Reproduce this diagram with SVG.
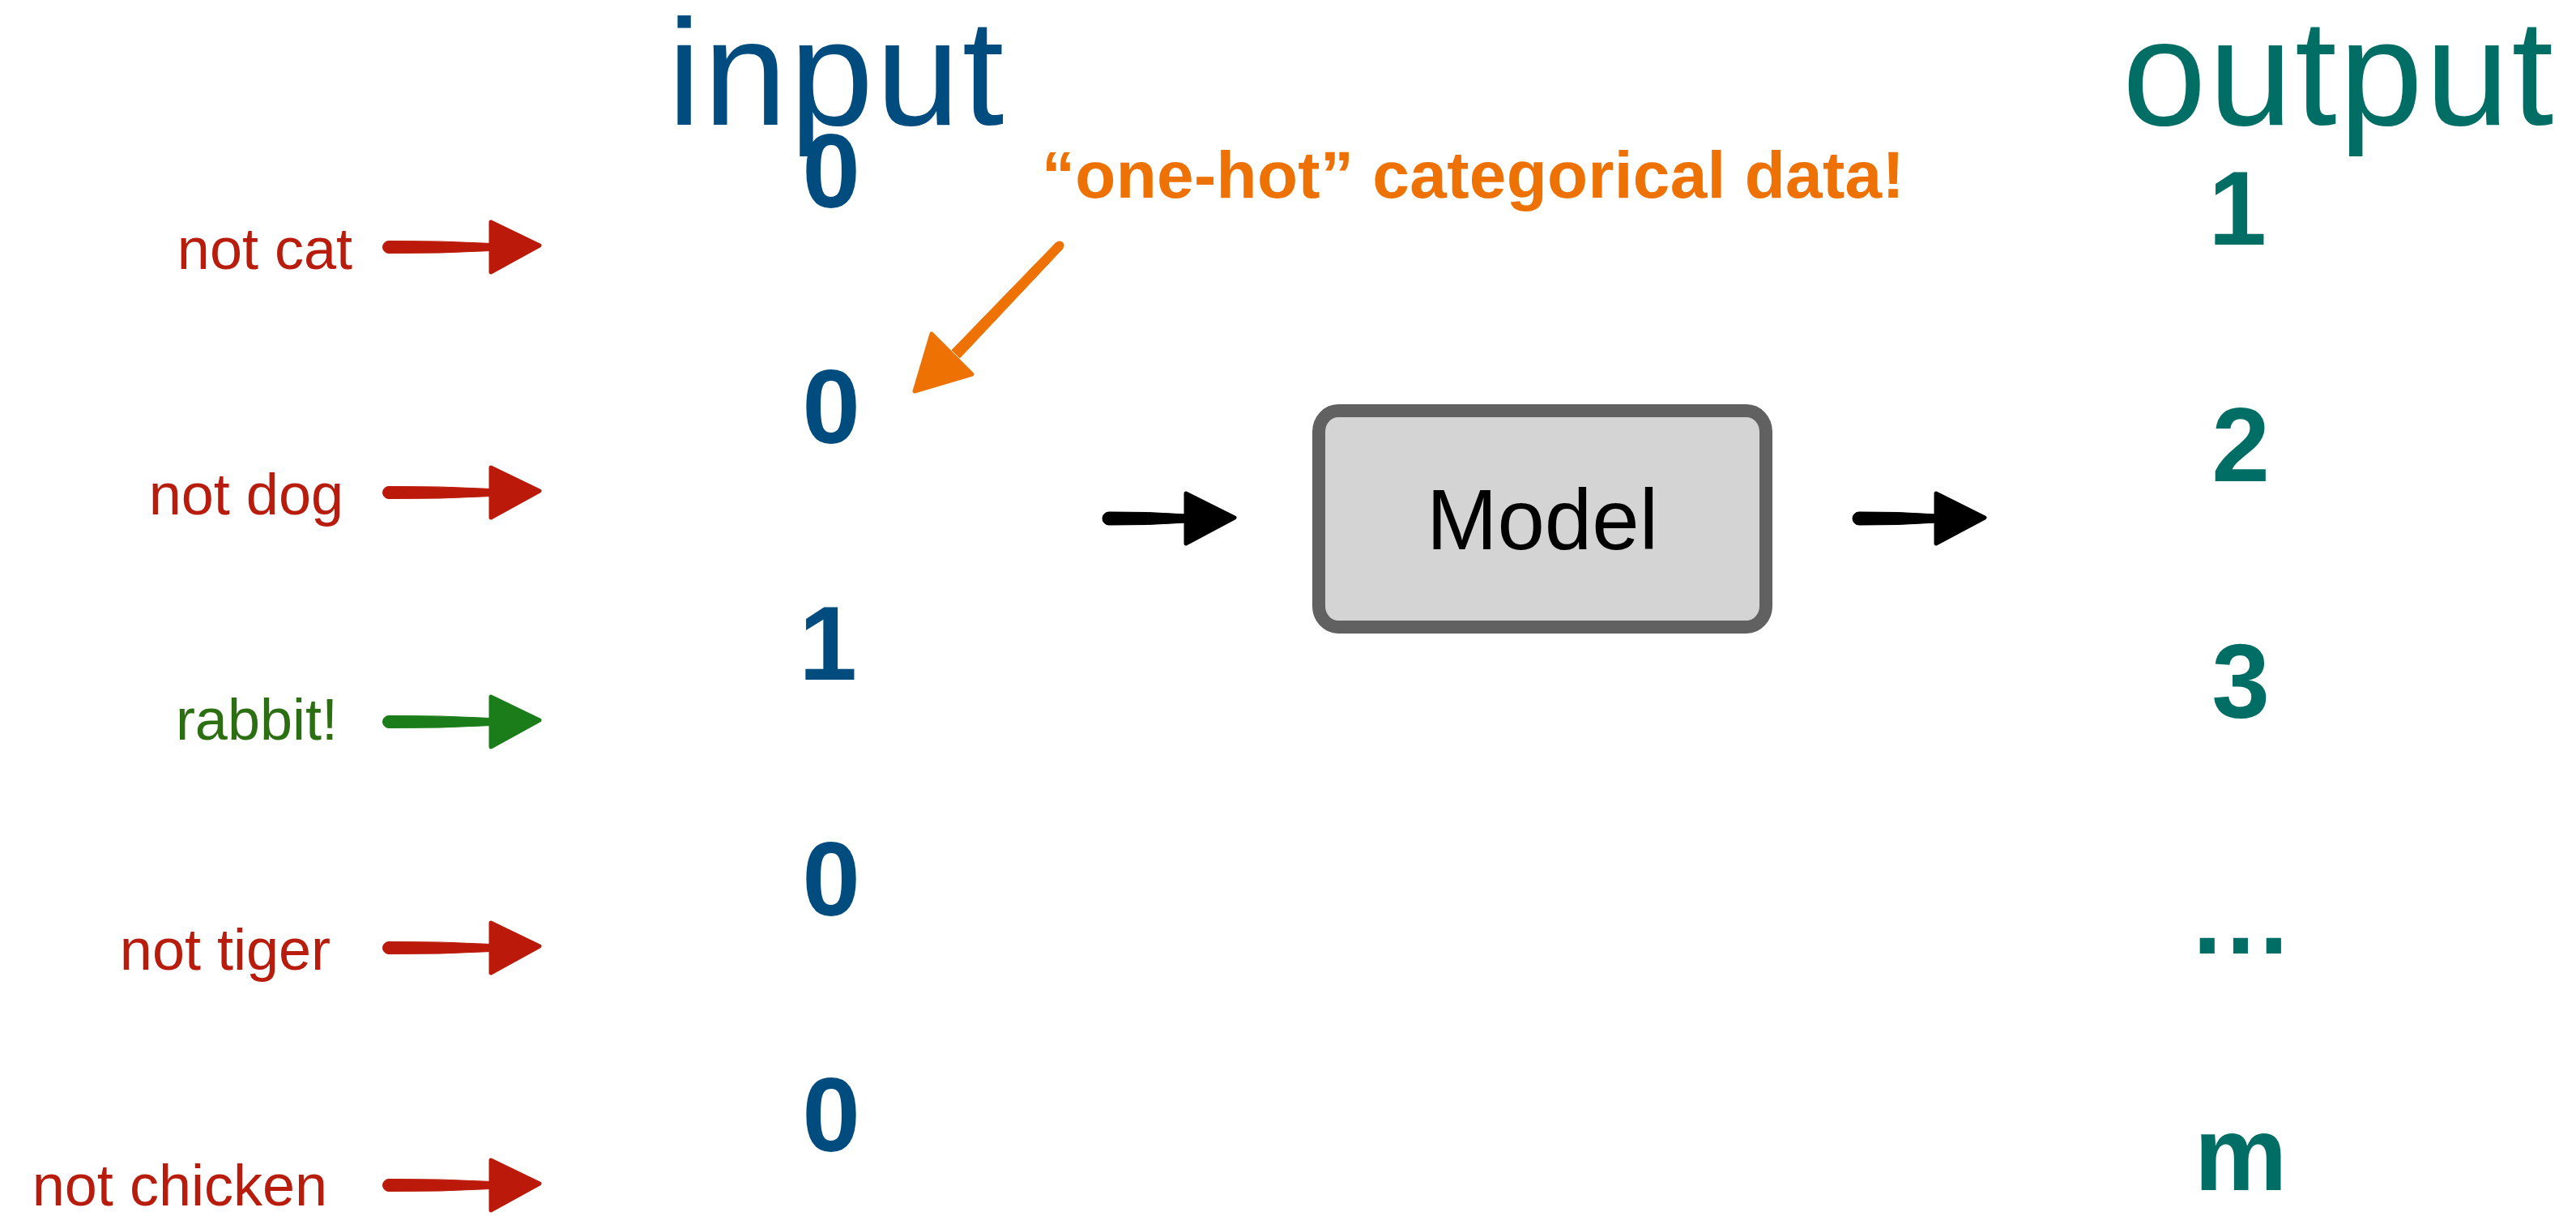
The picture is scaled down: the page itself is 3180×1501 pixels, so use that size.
<svg xmlns="http://www.w3.org/2000/svg" xmlns:xlink="http://www.w3.org/1999/xlink" width="3180" height="1501" viewBox="0 0 3180 1501">
<style>
  .title { font-family: "Liberation Sans", Arial, sans-serif; font-size: 186px; letter-spacing: 3px; }
  .in { fill: #004c7f; }
  .out { fill: #006e64; }
  .digit { font-family: "Liberation Sans", Arial, sans-serif; font-size: 129px; font-weight: bold; text-anchor: middle; }
  .lbl { font-family: "Liberation Sans", Arial, sans-serif; font-size: 72px; text-anchor: end; }
  .red { fill: #b81c0c; }
  .grn { fill: #2b6f12; }
  .note { font-family: "Liberation Sans", Arial, sans-serif; font-size: 82px; font-weight: bold; fill: #ee7203; letter-spacing: 0.3px; }
  .model { font-family: "Liberation Sans", Arial, sans-serif; font-size: 105px; fill: #000; text-anchor: middle; }
</style>
<defs>
  <g id="arrLong">
    <path d="M 7,-7.5 Q 70,-8 134,-4.5 L 134,4.5 Q 70,8 7,7.5 A 7.5 7.5 0 0 1 7,-7.5 Z"/>
    <path d="M 133,-31 L 193,-2 L 133,31 Z" stroke-width="5" stroke-linejoin="round"/>
  </g>
  <g id="arrShort">
    <path d="M 8,-8 Q 55,-8.5 104,-5 L 104,5 Q 55,8.5 8,8 A 8 8 0 0 1 8,-8 Z"/>
    <path d="M 103,-31 L 163,-1 L 103,31 Z" stroke-width="5" stroke-linejoin="round"/>
  </g>
</defs>

<g id="title-input"><text class="title in" x="824" y="154">input</text></g>
<g id="title-output"><text class="title out" x="2620" y="154">output</text></g>

<g id="inputs">
  <text class="digit in" x="1026" y="256">0</text>
  <text class="digit in" x="1026" y="547">0</text>
  <text class="digit in" x="1022" y="839">1</text>
  <text class="digit in" x="1026" y="1130">0</text>
  <text class="digit in" x="1026" y="1421">0</text>
</g>

<g id="outputs">
  <text class="digit out" x="2762" y="302">1</text>
  <text class="digit out" x="2766" y="594">2</text>
  <text class="digit out" x="2766" y="886">3</text>
  <text class="digit out" x="2766" y="1177">…</text>
  <text class="digit out" x="2766" y="1469">m</text>
</g>

<g id="labels">
  <text class="lbl red" x="435" y="332">not cat</text>
  <text class="lbl red" x="424" y="635">not dog</text>
  <text class="lbl grn" x="417" y="913">rabbit!</text>
  <text class="lbl red" x="408" y="1197">not tiger</text>
  <text class="lbl red" x="404" y="1488">not chicken</text>
</g>

<g id="note"><text class="note" x="1286" y="244">“one-hot” categorical data!</text></g>

<g id="model">
  <rect x="1628" y="507" width="552" height="267" rx="24" ry="26" fill="#d4d4d4" stroke="#616161" stroke-width="16"/>
  <text class="model" x="1904" y="678">Model</text>
</g>

<g id="connectors">
  <use xlink:href="#arrLong" x="473" y="305" fill="#bb1a0a" stroke="#bb1a0a"/>
  <use xlink:href="#arrLong" x="473" y="608" fill="#bb1a0a" stroke="#bb1a0a"/>
  <use xlink:href="#arrLong" x="473" y="891" fill="#1a7d1a" stroke="#1a7d1a"/>
  <use xlink:href="#arrLong" x="473" y="1170" fill="#bb1a0a" stroke="#bb1a0a"/>
  <use xlink:href="#arrLong" x="473" y="1463" fill="#bb1a0a" stroke="#bb1a0a"/>
  <use xlink:href="#arrShort" x="1361" y="640" fill="#000" stroke="#000"/>
  <use xlink:href="#arrShort" x="2287" y="640" fill="#000" stroke="#000"/>
  <g fill="#ee7203" stroke="#ee7203" stroke-linejoin="round">
    <path d="M 1312,306.8 L 1185,441.8 L 1175,432.2 L 1304,299.2 Z" stroke-width="1"/>
    <circle cx="1308" cy="303" r="5.5" stroke="none"/>
    <path d="M 1150,412 L 1200,462 L 1129,483 Z" stroke-width="5"/>
  </g>
</g>
</svg>
